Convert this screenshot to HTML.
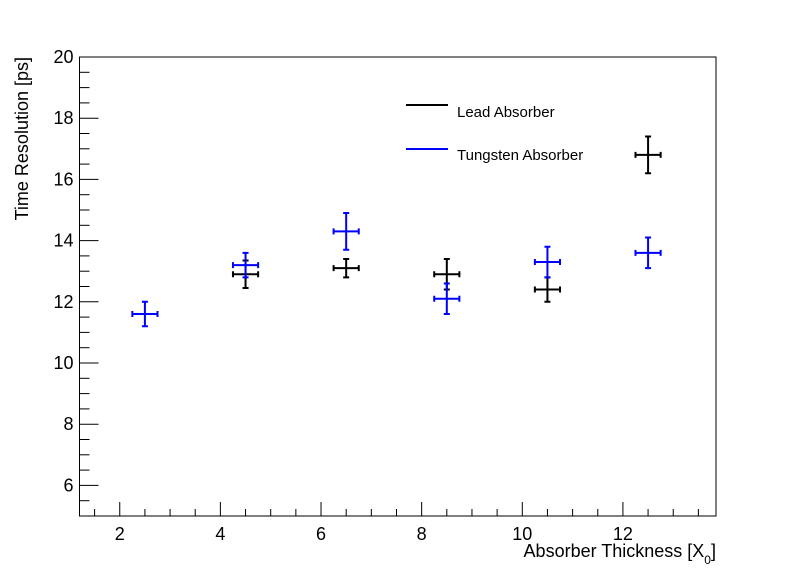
<!DOCTYPE html>
<html><head><meta charset="utf-8"><style>
html,body{margin:0;padding:0;background:#fff}
svg{display:block;font-family:"Liberation Sans",Arial,sans-serif}
</style></head><body>
<svg id="chart" width="796" height="574">
<rect x="0" y="0" width="796" height="574" fill="#fff"/>
<g id="axes"></g>
<g id="marks"></g>
<g>
<line x1="406" y1="105" x2="448" y2="105" stroke="#000" stroke-width="2"/>
<text x="457" y="117" font-size="15">Lead Absorber</text>
<line x1="406" y1="149" x2="448" y2="149" stroke="#0000ff" stroke-width="2"/>
<text x="457" y="160" font-size="15">Tungsten Absorber</text>
</g>
<text x="716" y="557" font-size="18" text-anchor="end">Absorber Thickness [X<tspan font-size="12" dy="7">0</tspan><tspan dy="-7">]</tspan></text>
<text transform="translate(28,57) rotate(-90)" font-size="18" text-anchor="end">Time Resolution [ps]</text>
</svg>
<script>
const xTicks=[2,4,6,8,10,12];
const yTicks=[6,8,10,12,14,16,18,20];
const leadX=[4.5,6.5,8.5,10.5,12.5];
const leadY=[12.9,13.1,12.9,12.4,16.8];
const leadErr=[0.45,0.3,0.5,0.4,0.6];
const tungX=[2.5,4.5,6.5,8.5,10.5,12.5];
const tungY=[11.6,13.2,14.3,12.1,13.3,13.6];
const tungErr=[0.4,0.4,0.6,0.5,0.5,0.5];
const xErr=0.25;

const X0=79.5,X1=716,Y0=516,Y1=57;
const xmin=1.2,xmax=13.85,ymin=5,ymax=20;
const sx=v=>X0+(v-xmin)/(xmax-xmin)*(X1-X0);
const sy=v=>Y0-(v-ymin)/(ymax-ymin)*(Y0-Y1);
const NS='http://www.w3.org/2000/svg';
function mk(tag,at,parent){const e=document.createElementNS(NS,tag);for(const k in at)e.setAttribute(k,at[k]);parent.appendChild(e);return e;}
const axes=document.getElementById('axes');
const marks=document.getElementById('marks');
let fr=mk('rect',{x:X0,y:Y1,width:X1-X0,height:Y0-Y1,fill:'none',stroke:'#000','stroke-width':1},axes);


for(let v=1.5;v<=13.6;v+=0.5){
  const major=xTicks.includes(v);
  const l=mk('line',{x1:sx(v),x2:sx(v),y1:Y0,y2:Y0-(major?14:7),stroke:'#000'},axes);
  
  
}
xTicks.forEach(v=>{
  const t=mk('text',{x:sx(v),y:Y0+24,'font-size':18,'text-anchor':'middle'},axes);t.textContent=v;
  
  
});
for(let v=5.5;v<=20;v+=0.5){
  const major=yTicks.includes(v);
  const l=mk('line',{x1:X0,x2:X0+(major?19:10),y1:sy(v),y2:sy(v),stroke:'#000'},axes);
  
  
}
yTicks.forEach(v=>{
  const t=mk('text',{x:X0-6,y:sy(v)+6,'font-size':18,'text-anchor':'end'},axes);t.textContent=v;
  
  
});
function series(xs,ys,es,color,name){
  const g=mk('g',{},marks);
  
  
  xs.forEach((x,i)=>{
    const cx=sx(x),cy=sy(ys[i]),xl=sx(x-xErr),xr=sx(x+xErr),yt=sy(ys[i]+es[i]),yb=sy(ys[i]-es[i]);
    const p=mk('path',{d:`M${xl},${cy}H${xr}M${cx},${yt}V${yb}M${xl},${cy-3}V${cy+3}M${xr},${cy-3}V${cy+3}M${cx-3},${yt}H${cx+3}M${cx-3},${yb}H${cx+3}`,stroke:color,'stroke-width':2,fill:'none'},g);
    
    
  });
}
series(leadX,leadY,leadErr,'#000','lead');
series(tungX,tungY,tungErr,'#0000ff','tungsten');
</script>
</body></html>
